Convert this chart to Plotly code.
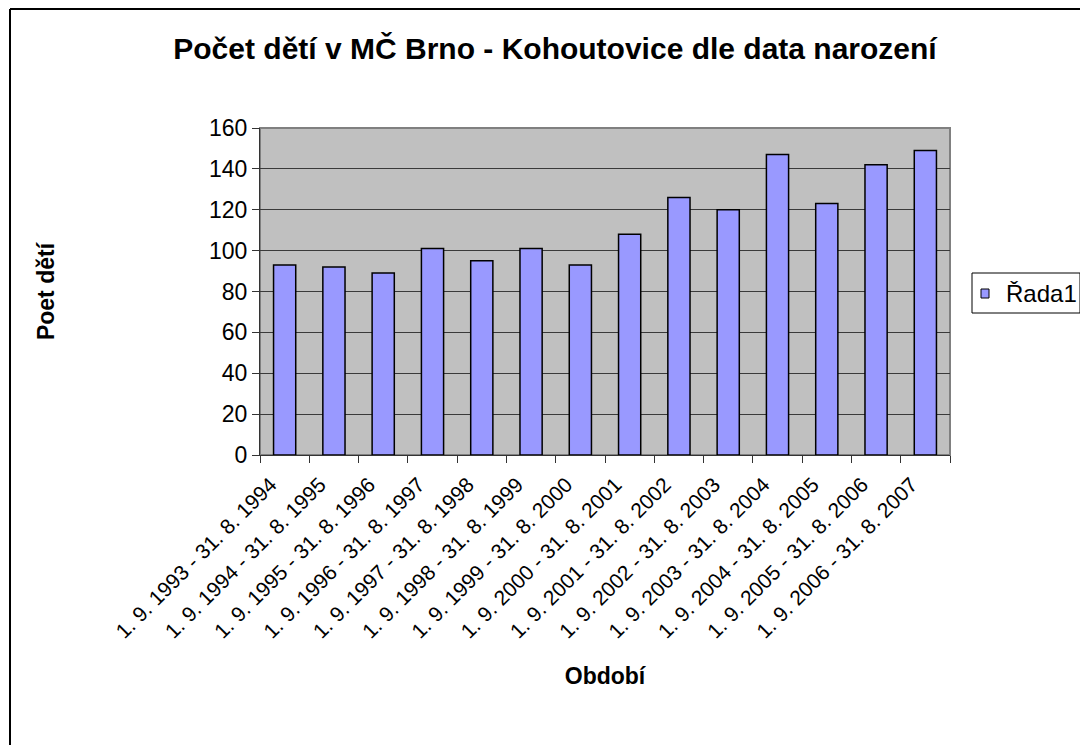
import plotly.graph_objects as go

categories = [
    "1. 9. 1993 - 31. 8. 1994", "1. 9. 1994 - 31. 8. 1995", "1. 9. 1995 - 31. 8. 1996",
    "1. 9. 1996 - 31. 8. 1997", "1. 9. 1997 - 31. 8. 1998", "1. 9. 1998 - 31. 8. 1999",
    "1. 9. 1999 - 31. 8. 2000", "1. 9. 2000 - 31. 8. 2001", "1. 9. 2001 - 31. 8. 2002",
    "1. 9. 2002 - 31. 8. 2003", "1. 9. 2003 - 31. 8. 2004", "1. 9. 2004 - 31. 8. 2005",
    "1. 9. 2005 - 31. 8. 2006", "1. 9. 2006 - 31. 8. 2007",
]
values = [93, 92, 89, 101, 95, 101, 93, 108, 126, 120, 147, 123, 142, 149]
series_name = "Řada1"
y_ticks = [0, 20, 40, 60, 80, 100, 120, 140, 160]

L, R, T, B = 260, 130, 128, 290
W, H = 1080, 745
pw, ph = W - L - R, H - T - B
BAR_COLOR = "#9999FF"


def px_x(p):
    return (p - L) / pw


def px_y(p):
    return (H - B - p) / ph


def seg(x0, y0, x1, y1, color="black", width=2, layer="above"):
    return dict(type="line", xref="paper", yref="paper",
                x0=px_x(x0), y0=px_y(y0), x1=px_x(x1), y1=px_y(y1),
                line=dict(color=color, width=width), layer=layer)


font = "Arial, Liberation Sans, sans-serif"

fig = go.Figure()
fig.add_trace(go.Bar(
    x=categories, y=values, name=series_name,
    marker=dict(color=BAR_COLOR, line=dict(color="#000000", width=1.5)),
    showlegend=False,
))

fig.update_layout(
    width=W, height=H, autosize=False,
    margin=dict(l=L, r=R, t=T, b=B, pad=0),
    paper_bgcolor="white",
    plot_bgcolor="#C0C0C0",
    bargap=0.55,
    font=dict(family=font, size=22, color="black"),
    title=dict(text="<b>Počet dětí v MČ Brno - Kohoutovice dle data narození</b>",
               x=555 / W, xanchor="center", y=1 - 48 / H, yanchor="middle",
               font=dict(size=30, family=font)),
    xaxis=dict(
        tickangle=-45, ticks="outside", tickson="boundaries", ticklen=7,
        tickcolor="#333333", showline=True, linecolor="#333333", linewidth=1,
        showgrid=False, tickfont=dict(size=21),
        ticklabelshift=-14, ticklabelstandoff=8,
        title=dict(text="<b>Období</b>", font=dict(size=23), standoff=26),
    ),
    yaxis=dict(
        range=[0, 160], tickvals=y_ticks, ticks="outside", ticklen=7,
        tickcolor="#333333", showline=True, linecolor="#333333", linewidth=1,
        showgrid=True, gridcolor="#3a3a3a", gridwidth=1, zeroline=False,
        tickfont=dict(size=23),
        title=dict(text="<b>Poet dětí</b>", font=dict(size=23), standoff=147),
    ),
    shapes=[
        dict(type="rect", xref="paper", yref="paper", x0=0, x1=1, y0=0, y1=1,
             line=dict(color="#808080", width=2), fillcolor="rgba(0,0,0,0)", layer="below"),
        # outer chart frame (top and left edges visible)
        seg(10, 9, 1080, 9),
        seg(10, 9, 10, 745),
        # legend box (cut at right edge)
        dict(type="rect", xref="paper", yref="paper",
             x0=px_x(972), x1=px_x(1080), y0=px_y(313), y1=px_y(273),
             line=dict(color="black", width=1), fillcolor="white"),
        # legend swatch
        dict(type="rect", xref="paper", yref="paper",
             x0=px_x(981), x1=px_x(989), y0=px_y(298), y1=px_y(289),
             line=dict(color="black", width=1), fillcolor=BAR_COLOR),
    ],
    annotations=[
        dict(text=series_name, xref="paper", yref="paper",
             x=px_x(1004), y=px_y(293), xanchor="left", yanchor="middle",
             showarrow=False, font=dict(size=24, family=font)),
    ],
)

fig.write_html(
    "out.html",
    config={"displayModeBar": False, "responsive": False},
    post_script="document.body.style.margin='0px';document.body.style.overflow='hidden';",
)
